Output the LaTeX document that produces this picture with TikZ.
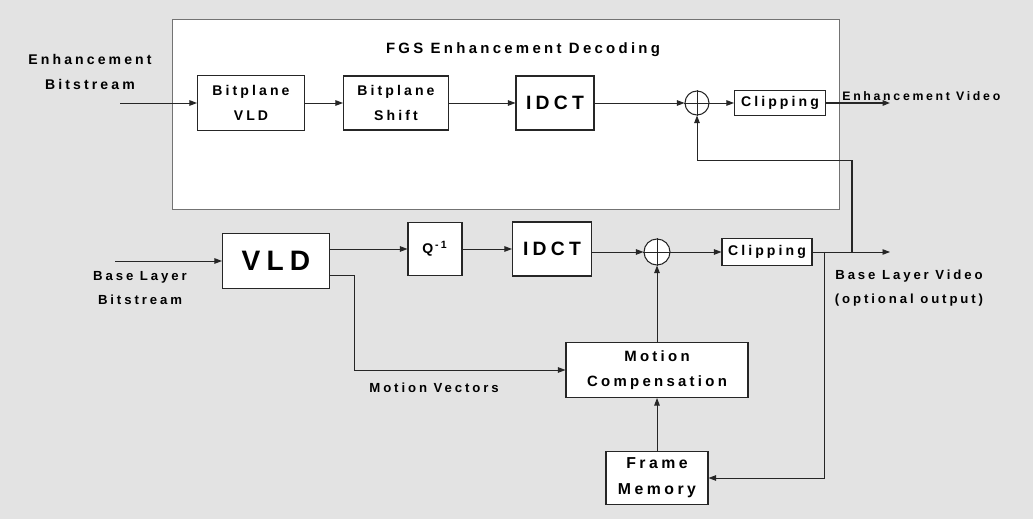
\documentclass[tikz,border=0pt]{standalone}
\usepackage{fontspec}
\setmainfont{Liberation Sans}
\newfontfamily\spaced[LetterSpace=22]{Liberation Sans}
\usepackage{tikz}
\usetikzlibrary{arrows.meta}

\begin{document}
\begin{tikzpicture}[x=0.02cm,y=-0.02cm,
  block/.style={draw=black!85,fill=white,rectangle,line width=0.6pt,align=center,inner sep=1pt,font=\spaced\bfseries\fontsize{8}{14.5}\selectfont},
  adder/.style={draw=black!85,fill=white,circle,line width=0.6pt,minimum size=24*0.02cm,inner sep=0pt},
  label/.style={align=center,inner sep=0pt,font=\spaced\bfseries\fontsize{7.5}{13.5}\selectfont},
  arr/.style={-{Triangle[length=1.5mm,width=1.1mm]},line width=0.5pt,black!85}
]

% Background and bounding box
\fill[gray!22] (0,0) rectangle (1033,519);
\useasboundingbox (0,0) rectangle (1033,519);

% FGS enhancement layer
\draw[black!55,fill=white,line width=0.5pt] (172,19) rectangle (839,209);
\node[label,font=\spaced\bfseries\fontsize{8.5}{12}\selectfont] (fgs) at (523,50) {FGS Enhancement Decoding};
\node[label,font=\spaced\bfseries\fontsize{8}{14}\selectfont] (enbits) at (90,72) {Enhancement\\Bitstream};
\coordinate (ein) at (120,103);
\node[block,minimum width=107*0.02cm,minimum height=55*0.02cm] (bvld) at (251,103) {Bitplane\\VLD};
\node[block,minimum width=105*0.02cm,minimum height=54*0.02cm] (bshift) at (396,103) {Bitplane\\Shift};
\node[block,minimum width=78*0.02cm,minimum height=54*0.02cm,font=\spaced\bfseries\fontsize{11}{12}\selectfont] (eidct) at (555,103) {IDCT};
\node[adder] (eadd) at (697,103) {};
\node[block,minimum width=91*0.02cm,minimum height=25*0.02cm] (eclip) at (780,103) {Clipping};
\coordinate (eout) at (890,103);
\node[label,anchor=west,font=\spaced\bfseries\fontsize{7}{12}\selectfont] (envid) at (842,96) {Enhancement Video};

% Base layer
\node[label] (bsbits) at (140,288) {Base Layer\\Bitstream};
\coordinate (bin) at (115,261);
\node[block,minimum width=107*0.02cm,minimum height=55*0.02cm,font=\spaced\bfseries\fontsize{16}{18}\selectfont] (vld) at (276,261) {VLD};
\node[block,minimum width=54*0.02cm,minimum height=53*0.02cm] (qinv) at (435,249) {Q\textsuperscript{\,-1}};
\node[block,minimum width=79*0.02cm,minimum height=54*0.02cm,font=\spaced\bfseries\fontsize{11}{12}\selectfont] (bidct) at (552,249) {IDCT};
\node[adder,minimum size=26*0.02cm] (badd) at (657,252) {};
\node[block,minimum width=90*0.02cm,minimum height=27*0.02cm] (bclip) at (767,252) {Clipping};
\coordinate (bout) at (890,252);
\coordinate (mtap) at (824,252);
\coordinate (etap) at (852,252);
\coordinate (fb) at (852,160);
\node[label] (bsvid) at (909,288) {Base Layer Video\\(optional output)};
\node[block,minimum width=182*0.02cm,minimum height=55*0.02cm,font=\spaced\bfseries\fontsize{8.5}{14.5}\selectfont] (mcomp) at (657,370) {Motion\\Compensation};
\node[block,minimum width=102*0.02cm,minimum height=53*0.02cm,font=\spaced\bfseries\fontsize{9}{15}\selectfont] (fmem) at (657,478) {Frame\\Memory};
\coordinate (mvout) at (330,275);
\coordinate (mvbend) at (354,370);
\node[label] (mvlabel) at (434,388) {Motion Vectors};

% Adder crosses
\draw[black!85,line width=0.5pt] (eadd.north) -- (eadd.south) (eadd.west) -- (eadd.east);
\draw[black!85,line width=0.5pt] (badd.north) -- (badd.south) (badd.west) -- (badd.east);

% Arrows
\draw[arr] (ein) -- (bvld);
\draw[arr] (bvld) -- (bshift);
\draw[arr] (bshift) -- (eidct);
\draw[arr] (eidct) -- (eadd);
\draw[arr] (eadd) -- (eclip);
\draw[arr,line width=0.9pt] (eclip) -- (eout);

\draw[arr] (bin) -- (vld);
\draw[arr] (vld.east |- qinv) -- (qinv);
\draw[arr] (qinv) -- (bidct);
\draw[arr] (bidct.east |- badd) -- (badd);
\draw[arr] (badd) -- (bclip);
\draw[arr] (bclip) -- (bout);
\draw[arr] (mvout) -| (mvbend) -- (mcomp);
\draw[arr] (mcomp) -- (badd);
\draw[arr] (fmem) -- (mcomp);
\draw[arr] (mtap) |- (fmem);
\draw[line width=1.4pt,black!85] (etap) -- (fb);
\draw[arr] (fb) -| (eadd);

\end{tikzpicture}
\end{document}
